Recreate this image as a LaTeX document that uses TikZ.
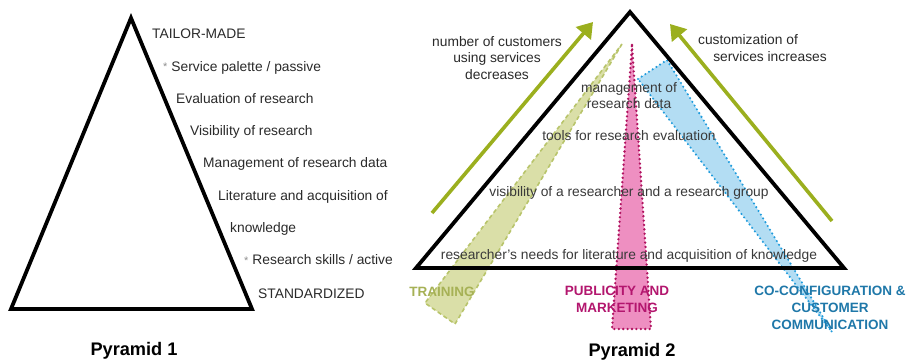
\documentclass[tikz,border=0pt]{standalone}
\usepackage{fontspec}
\setmainfont{Liberation Sans}
\usetikzlibrary{arrows.meta}

\definecolor{txtgray}{HTML}{2A2A2A}
\definecolor{innergray}{HTML}{3A3A3A}
\definecolor{stargray}{HTML}{8E8E8E}
\definecolor{arrowgreen}{HTML}{9BAF1E}
\definecolor{trainfill}{HTML}{DADFA8}
\definecolor{traindash}{HTML}{B8C46A}
\definecolor{trainlabel}{HTML}{A6B155}
\definecolor{pubfill}{HTML}{EE8FC1}
\definecolor{pubdot}{HTML}{B0125F}
\definecolor{publabel}{HTML}{B3166E}
\definecolor{cofill}{HTML}{B3DDF3}
\definecolor{codot}{HTML}{1E9BDC}
\definecolor{colabel}{HTML}{1F78A9}

\newcommand{\graystar}{{\color{stargray}\fontsize{11}{11}\selectfont\raisebox{1pt}{*}}\hspace{4pt}}

\tikzset{
  pyramidline/.style={draw=black, line width=3.8pt, line join=miter},
  lab/.style={inner sep=0pt, text=txtgray, font=\fontsize{13.8}{16.5}\selectfont},
  inner/.style={inner sep=0pt, text=innergray, font=\fontsize{13.8}{16.5}\selectfont, align=center},
  grouplab/.style={inner sep=0pt, font=\bfseries\fontsize{13.5}{17}\selectfont, align=center},
  title/.style={inner sep=0pt, text=black, font=\bfseries\fontsize{18.2}{20}\selectfont},
  growarrow/.style={draw=arrowgreen, line width=3.6pt,
    -{Triangle[length=15pt,width=19pt]}},
  trainband/.style={fill=trainfill, draw=traindash, line width=1.6pt,
    dash pattern=on 4pt off 3pt},
  pubband/.style={fill=pubfill, draw=pubdot, line width=2.6pt, line cap=round,
    dash pattern=on 0pt off 4.4pt},
  coband/.style={fill=cofill, draw=codot, line width=2.3pt, line cap=round,
    dash pattern=on 0pt off 4.4pt}
}

\begin{document}
\begin{tikzpicture}[x=1pt, y=-1pt]
  \useasboundingbox (0,0) rectangle (912,363);
  \fill[white] (0,0) rectangle (912,363);

  % ---------- Pyramid 1 ----------
  \coordinate (p1left)  at (11,309);
  \coordinate (p1apex)  at (131,18);
  \coordinate (p1right) at (252,309);
  \draw[pyramidline] (p1left) -- (p1apex) -- (p1right) -- cycle;

  \node[lab, anchor=base west] (tailor)  at (152,39)  {TAILOR-MADE};
  \node[lab, anchor=base west] (palette) at (163,72)  {\graystar Service palette / passive};
  \node[lab, anchor=base west] (evalr)   at (176,104) {Evaluation of research};
  \node[lab, anchor=base west] (visr)    at (190,136) {Visibility of research};
  \node[lab, anchor=base west] (mgmt)    at (203,168) {Management of research data};
  \node[lab, anchor=base west] (lit)     at (218,201) {Literature and acquisition of};
  \node[lab, anchor=base west] (know)    at (230,233) {knowledge};
  \node[lab, anchor=base west] (skills)  at (244,265) {\graystar Research skills / active};
  \node[lab, anchor=base west] (std)     at (258,298) {STANDARDIZED};

  \node[title, anchor=base] (title1) at (134,355) {Pyramid 1};

  % ---------- Pyramid 2: service bands ----------
  \coordinate (trtop)   at (622,44);
  \coordinate (trfoot)  at (455,324);
  \coordinate (trleft)  at (425,303);
  \filldraw[trainband] (trtop) -- (trfoot) -- (trleft) -- cycle;

  \coordinate (pubtop)  at (632,45);
  \coordinate (pubbr)   at (651,329);
  \coordinate (pubbl)   at (612,329);
  \filldraw[pubband] (pubtop) -- (pubbr) -- (pubbl) -- cycle;

  \coordinate (cotl)    at (638,79);
  \coordinate (cotr)    at (667,60);
  \coordinate (cofoot)  at (832,332);
  \filldraw[coband] (cotl) -- (cotr) -- (cofoot) -- cycle;

  % ---------- Pyramid 2: outline ----------
  \coordinate (p2left)  at (416,268);
  \coordinate (p2apex)  at (630,12);
  \coordinate (p2right) at (844,268);
  \draw[pyramidline] (p2left) -- (p2apex) -- (p2right) -- cycle;

  % ---------- trend arrows ----------
  \coordinate (lfoot) at (432,213);
  \coordinate (ltip)  at (593,22);
  \coordinate (rfoot) at (832,221);
  \coordinate (rtip)  at (670,24);
  \draw[growarrow] (lfoot) -- (ltip);
  \draw[growarrow] (rfoot) -- (rtip);

  \node[lab, align=center, anchor=north] (custnum) at (497,36)
    {number of customers\\using services\\decreases};
  \node[lab, anchor=base] (custA) at (748,45) {customization of};
  \node[lab, anchor=base] (custB) at (770,62) {services increases};

  % ---------- Pyramid 2: levels ----------
  \node[inner, anchor=north] (lvdata) at (629,82) {management of\\research data};
  \node[inner, anchor=base] (lveval) at (629,141) {tools for research evaluation};
  \node[inner, anchor=base] (lvvis)  at (629,197) {visibility of a researcher and a research group};
  \node[inner, anchor=base] (lvlit)  at (629,259) {researcher’s needs for literature and acquisition of knowledge};

  % ---------- band labels ----------
  \node[grouplab, text=trainlabel, anchor=base] (training) at (442,296) {TRAINING};
  \node[grouplab, text=publabel, anchor=north] (publicity) at (617,286) {PUBLICITY AND\\MARKETING};
  \node[grouplab, text=colabel, anchor=north] (coconf) at (830,286) {CO-CONFIGURATION \&\\CUSTOMER\\COMMUNICATION};

  \node[title, anchor=base] (title2) at (632,356) {Pyramid 2};
\end{tikzpicture}
\end{document}
